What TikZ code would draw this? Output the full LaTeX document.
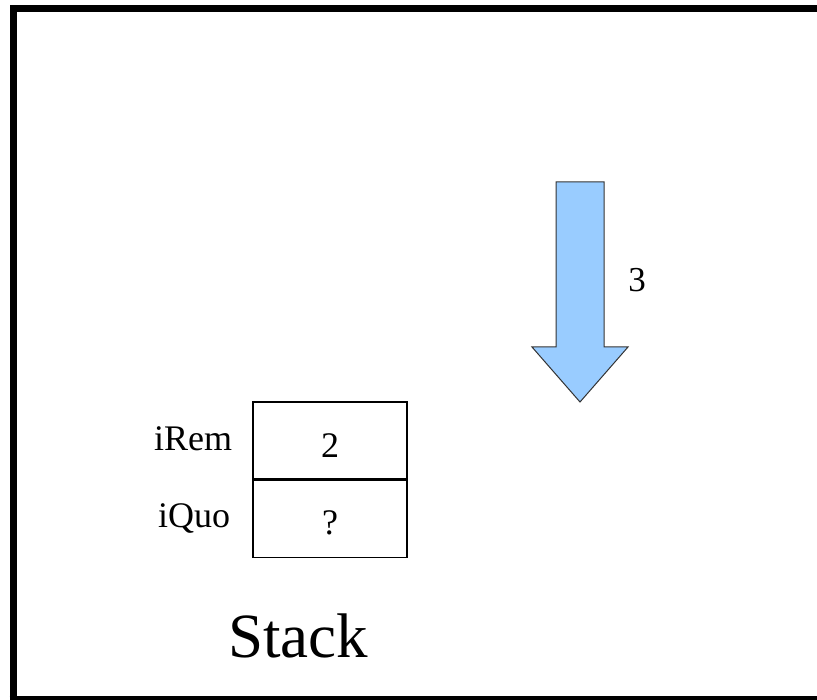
\documentclass[tikz,border=0pt]{standalone}
\usepackage{fontspec}
\setmainfont{Liberation Serif}
\begin{document}
\begin{tikzpicture}[x=1pt,y=-1pt,
  frameline/.style={line width=7.3pt},
  cell/.style={draw,line width=1.3pt,minimum width=154pt,minimum height=77pt,inner sep=0pt,font=\fontsize{36}{40}\selectfont},
  lbl/.style={font=\fontsize{36}{40}\selectfont,anchor=base,inner sep=0pt},
  bigarrow/.style={draw=black!80,line width=1pt,fill=arrowblue}]
\definecolor{arrowblue}{HTML}{99CCFF}
\useasboundingbox (0,0) rectangle (817,700);
\begin{scope}
\clip (0,0) rectangle (817,700);
\draw[frameline] (13.3,699.5) -- (13.3,8.7) -- (830,8.7);
\draw[frameline] (9.6,699.5) -- (830,699.5);
\end{scope}
% stack cells
\node[cell] (rem) at (330,440.5) {};
\node[cell,anchor=north] (quo) at (rem.south) {};
\node[font=\fontsize{36}{40}\selectfont,anchor=base,inner sep=0pt] (v2) at (330,458) {2};
\node[font=\fontsize{36}{40}\selectfont,anchor=base,inner sep=0pt] (vq) at (330,534) {?};
\node[lbl] (lrem) at (193,451) {iRem};
\node[lbl] (lquo) at (194,527) {iQuo};
\node[font=\fontsize{63}{70}\selectfont,anchor=base,inner sep=0pt] (stack) at (298,657) {Stack};
% arrow
\coordinate (a1) at (556,182);
\coordinate (a2) at (604,182);
\coordinate (a3) at (604,347);
\coordinate (a4) at (628,347);
\coordinate (tip) at (580,402);
\coordinate (a6) at (532,347);
\coordinate (a7) at (556,347);
\draw[bigarrow] (a1) -- (a2) -- (a3) -- (a4) -- (tip) -- (a6) -- (a7) -- cycle;
\node[font=\fontsize{35}{40}\selectfont,anchor=base,inner sep=0pt] (three) at (637,292) {3};
\end{tikzpicture}
\end{document}
